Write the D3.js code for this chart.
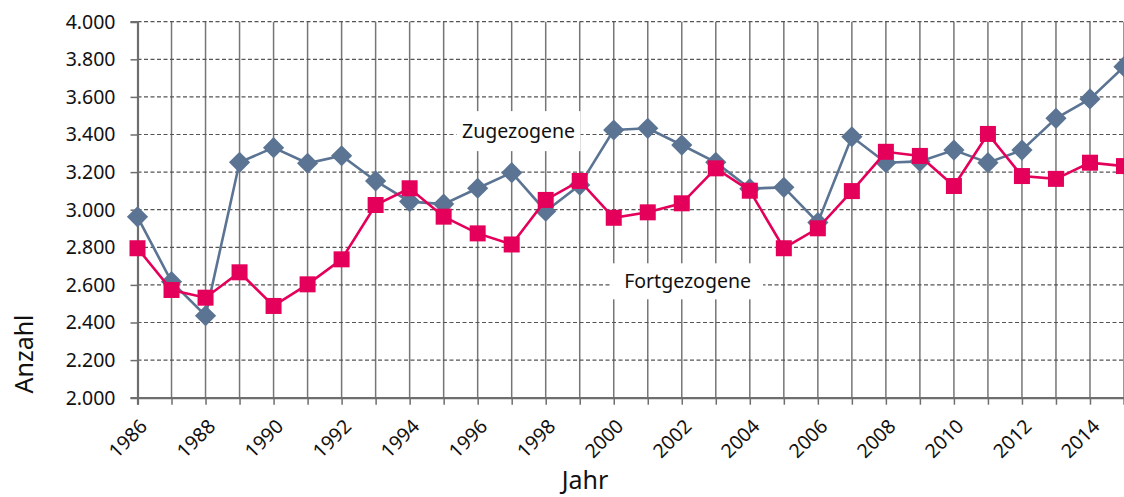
<!DOCTYPE html>
<html>
<head>
<meta charset="utf-8">
<script src="https://cdn.jsdelivr.net/npm/d3@7"></script>
<style>
  body { margin: 0; background: #fff; }
  svg text { font-family: "Noto Sans", "Open Sans", sans-serif; fill: #111; }
  .tick-label { font-size: 19.5px; }
  .axis-title { font-size: 25px; }
  .series-label { font-size: 19.5px; }
</style>
</head>
<body>
<div id="chart"></div>
<script>
// Chart data
const years = d3.range(1986, 2016);
const zugezogene = [2962, 2617, 2436, 3252, 3330, 3247, 3287, 3153, 3043, 3030,
  3114, 3197, 2992, 3131, 3424, 3433, 3344, 3252, 3112, 3119,
  2932, 3388, 3250, 3257, 3317, 3250, 3317, 3486, 3589, 3761];
const fortgezogene = [2795, 2573, 2532, 2667, 2488, 2603, 2736, 3025, 3114, 2963,
  2874, 2815, 3052, 3153, 2957, 2986, 3034, 3220, 3101, 2795,
  2901, 3099, 3308, 3286, 3126, 3403, 3179, 3164, 3250, 3232];
const yTicks = [2000, 2200, 2400, 2600, 2800, 3000, 3200, 3400, 3600, 3800, 4000];

const W = 1124, H = 497;
const margin = { top: 21.7, right: 0, bottom: 99.3, left: 137.5 };
const width = W - margin.left - margin.right;
const height = H - margin.top - margin.bottom;

const fmt = d => d3.format(",")(d).replace(",", ".");

const svg = d3.select("#chart").append("svg")
  .attr("width", W).attr("height", H);

const g = svg.append("g")
  .attr("transform", `translate(${margin.left},${margin.top})`);

const x = d3.scaleLinear().domain([1986, 2015]).range([0, width]);
const y = d3.scaleLinear().domain([2000, 4000]).range([height, 0]);

// vertical grid (solid)
g.append("g")
  .selectAll("line")
  .data(years.slice(1))
  .enter().append("line")
  .attr("x1", d => x(d)).attr("x2", d => x(d))
  .attr("y1", 0).attr("y2", height)
  .attr("stroke", "#767676").attr("stroke-width", 1.5);

// horizontal grid (dashed)
g.append("g")
  .selectAll("line")
  .data(yTicks.slice(1))
  .enter().append("line")
  .attr("x1", 0).attr("x2", width)
  .attr("y1", d => y(d)).attr("y2", d => y(d))
  .attr("stroke", "#555").attr("stroke-width", 1.2)
  .attr("stroke-dasharray", "4,2.5");

// white boxes behind the series labels
const labels = [
  { text: "Zugezogene", year: 1997.2, value: 3418, w: 124, h: 40 },
  { text: "Fortgezogene", year: 2002.17, value: 2619, w: 151, h: 36 }
];
g.selectAll(".label-box")
  .data(labels)
  .enter().append("rect")
  .attr("class", "label-box")
  .attr("x", d => x(d.year) - d.w / 2)
  .attr("y", d => y(d.value) - d.h / 2)
  .attr("width", d => d.w).attr("height", d => d.h)
  .attr("fill", "#fff");

g.selectAll(".series-label")
  .data(labels)
  .enter().append("text")
  .attr("class", "series-label")
  .attr("x", d => x(d.year))
  .attr("y", d => y(d.value))
  .attr("dy", "0.35em")
  .attr("text-anchor", "middle")
  .text(d => d.text);

// axes
const xAxis = g.append("g")
  .attr("transform", `translate(0,${height})`)
  .call(d3.axisBottom(x).tickValues(years).tickSize(7).tickFormat(""));
xAxis.select(".domain").attr("stroke", "#6e6e6e").attr("stroke-width", 2.2);
xAxis.selectAll(".tick line").attr("stroke", "#6e6e6e").attr("stroke-width", 1.5);

const yAxis = g.append("g")
  .call(d3.axisLeft(y).tickValues(yTicks).tickSize(7).tickFormat(""));
yAxis.select(".domain").attr("stroke", "#6e6e6e").attr("stroke-width", 2.2);
yAxis.selectAll(".tick line").attr("stroke", "#6e6e6e").attr("stroke-width", 1.5);

// y tick labels
g.append("g")
  .selectAll("text")
  .data(yTicks)
  .enter().append("text")
  .attr("class", "tick-label")
  .attr("x", -22)
  .attr("y", d => y(d))
  .attr("dy", "0.35em")
  .attr("text-anchor", "end")
  .text(fmt);

// x tick labels (every other year, rotated)
g.append("g")
  .selectAll("text")
  .data(years.filter(d => d % 2 === 0))
  .enter().append("text")
  .attr("class", "tick-label")
  .attr("text-anchor", "end")
  .attr("transform", d => `translate(${x(d) + 11},${height + 30}) rotate(-45)`)
  .text(d => d);

// axis titles
svg.append("text")
  .attr("class", "axis-title")
  .attr("text-anchor", "middle")
  .attr("transform", `translate(33,354) rotate(-90)`)
  .text("Anzahl");

svg.append("text")
  .attr("class", "axis-title")
  .attr("text-anchor", "middle")
  .attr("x", 585).attr("y", 489)
  .text("Jahr");

// series
const line = d3.line().x((d, i) => x(years[i])).y(d => y(d));

g.append("path")
  .datum(zugezogene)
  .attr("fill", "none")
  .attr("stroke", "#5b7493")
  .attr("stroke-width", 2.6)
  .attr("d", line);

g.append("g")
  .selectAll("path")
  .data(zugezogene)
  .enter().append("path")
  .attr("transform", (d, i) => `translate(${x(years[i])},${y(d)}) rotate(45)`)
  .attr("d", "M-7.5,-7.5H7.5V7.5H-7.5Z")
  .attr("fill", "#5b7493");

g.append("path")
  .datum(fortgezogene)
  .attr("fill", "none")
  .attr("stroke", "#e4005a")
  .attr("stroke-width", 2.6)
  .attr("d", line);

g.append("g")
  .selectAll("rect")
  .data(fortgezogene)
  .enter().append("rect")
  .attr("x", (d, i) => x(years[i]) - 8)
  .attr("y", d => y(d) - 8)
  .attr("width", 16).attr("height", 16)
  .attr("fill", "#e4005a");
</script>
</body>
</html>
